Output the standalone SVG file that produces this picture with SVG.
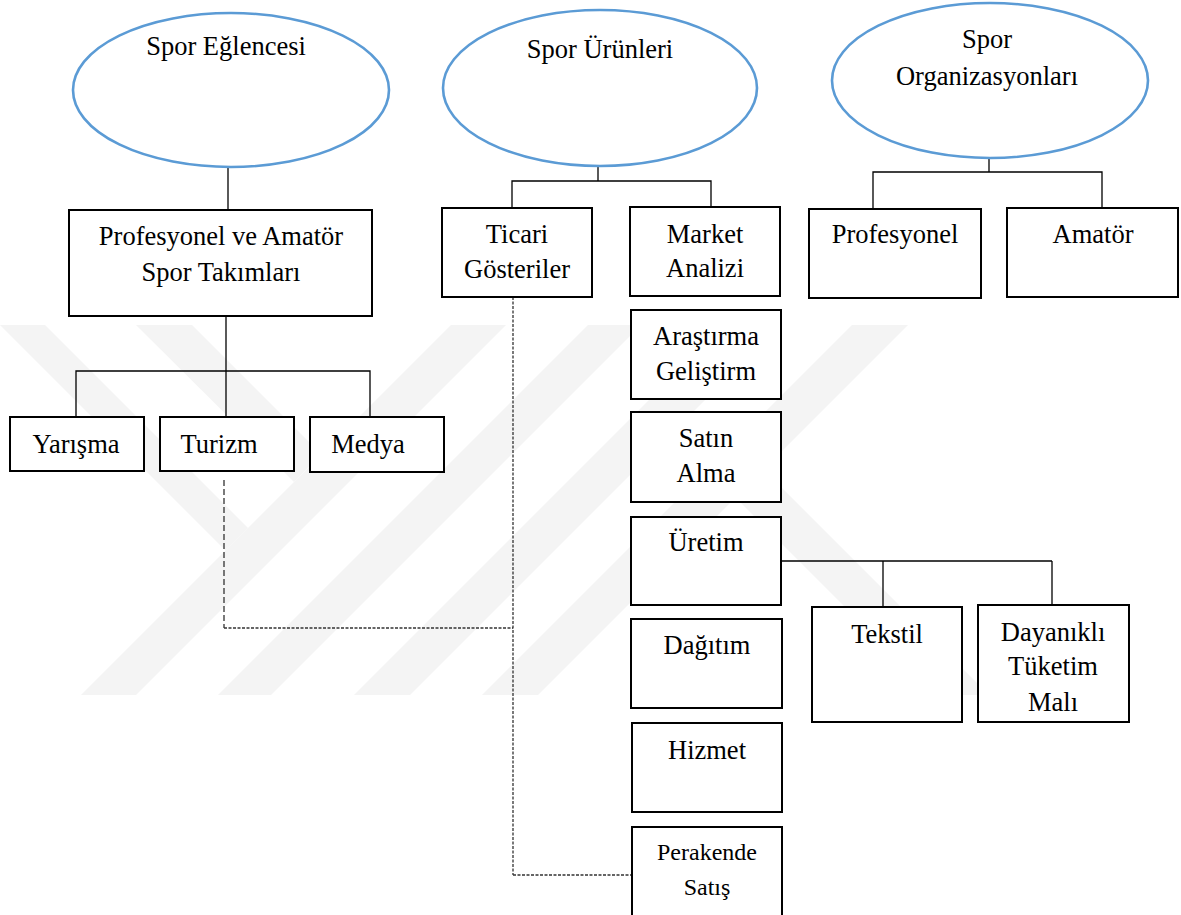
<svg xmlns="http://www.w3.org/2000/svg" width="1181" height="915" viewBox="0 0 1181 915">
<style>
.wm{fill:#f4f4f4;stroke:none}
.ell{fill:#ffffff;stroke:#5b9bd5;stroke-width:2.6}
.box{fill:#ffffff;stroke:#000000;stroke-width:2}
.t{font-family:"Liberation Serif","Times New Roman",serif;font-size:26.5px;fill:#000000;text-anchor:middle}
.ts{font-size:24px}
.ln{fill:none;stroke:#000000;stroke-width:1.3}
.dl{fill:none;stroke:#333333;stroke-width:1.3;stroke-dasharray:6 3}
.df{fill:none;stroke:#333333;stroke-width:1.3;stroke-dasharray:3 1.5}
</style>
<rect x="0" y="0" width="1181" height="915" fill="#ffffff"/>
<g id="watermark">
<polygon class="wm" points="0,325 45,325 248,528 225.5,550.5 0,325"/>
<polygon class="wm" points="136,325 192,325 321,454 294,482"/>
<polygon class="wm" points="451,325 506,325 136,695 81,695"/>
<polygon class="wm" points="588,325 641,325 271,695 218,695"/>
<polygon class="wm" points="724,325 780,325 410,695 354,695"/>
<polygon class="wm" points="852,325 908,325 538,695 482,695"/>
<polygon class="wm" points="763.5,469.5 989,695 933,695 735.5,497.5"/>
</g>
<g id="connectors">
<line class="ln" x1="228" y1="151" x2="228" y2="210"/>
<line class="ln" x1="226" y1="316" x2="226" y2="417"/>
<polyline class="ln" points="76,417 76,371 370,371 370,417"/>
<line class="ln" x1="598" y1="149" x2="598" y2="181"/>
<polyline class="ln" points="512,208 512,181 711,181 711,207"/>
<line class="ln" x1="989" y1="140" x2="989" y2="172"/>
<polyline class="ln" points="873,209 873,172 1102,172 1102,208"/>
<line class="ln" x1="781" y1="561" x2="1052" y2="561"/>
<line class="ln" x1="883" y1="561" x2="883" y2="607"/>
<line class="ln" x1="1052" y1="561" x2="1052" y2="605"/>
<line class="dl" x1="224" y1="480" x2="224" y2="628"/>
<line class="df" x1="224" y1="628" x2="513" y2="628"/>
<line class="df" x1="513" y1="297" x2="513" y2="875"/>
<line class="df" x1="513" y1="875" x2="632" y2="875"/>
</g>
<g id="spor-eglencesi">
<ellipse class="ell" cx="231" cy="90" rx="158" ry="77"/>
<text class="t" x="226" y="55">Spor Eğlencesi</text>
</g>
<g id="spor-urunleri">
<ellipse class="ell" cx="600" cy="88" rx="157" ry="78"/>
<text class="t" x="600" y="58">Spor Ürünleri</text>
</g>
<g id="spor-organizasyonlari">
<ellipse class="ell" cx="990" cy="80.5" rx="158" ry="77.5"/>
<text class="t" x="987" y="48">Spor</text>
<text class="t" x="987" y="85">Organizasyonları</text>
</g>
<g id="profesyonel-amator-takimlar">
<rect class="box" x="69" y="210" width="303" height="106"/>
<text class="t" x="221" y="245">Profesyonel ve Amatör</text>
<text class="t" x="221" y="281">Spor Takımları</text>
</g>
<g id="ticari-gosteriler">
<rect class="box" x="442" y="208" width="150" height="89"/>
<text class="t" x="517" y="243">Ticari</text>
<text class="t" x="517" y="278">Gösteriler</text>
</g>
<g id="market-analizi">
<rect class="box" x="630" y="207" width="150" height="89"/>
<text class="t" x="705" y="243">Market</text>
<text class="t" x="705" y="277">Analizi</text>
</g>
<g id="profesyonel">
<rect class="box" x="809" y="209" width="172" height="89"/>
<text class="t" x="895" y="243">Profesyonel</text>
</g>
<g id="amator">
<rect class="box" x="1007" y="208" width="171" height="89"/>
<text class="t" x="1093" y="243">Amatör</text>
</g>
<g id="yarisma">
<rect class="box" x="10" y="417" width="134" height="54"/>
<text class="t" x="76" y="453">Yarışma</text>
</g>
<g id="turizm">
<rect class="box" x="160" y="417" width="134" height="54"/>
<text class="t" x="219" y="453">Turizm</text>
</g>
<g id="medya">
<rect class="box" x="310" y="417" width="134" height="55"/>
<text class="t" x="368" y="453">Medya</text>
</g>
<g id="arastirma-gelistirme">
<rect class="box" x="631" y="310" width="150" height="89"/>
<text class="t" x="706" y="345">Araştırma</text>
<text class="t" x="706" y="380">Geliştirm</text>
</g>
<g id="satin-alma">
<rect class="box" x="631" y="412" width="150" height="90"/>
<text class="t" x="706" y="447">Satın</text>
<text class="t" x="706" y="482">Alma</text>
</g>
<g id="uretim">
<rect class="box" x="631" y="517" width="150" height="88"/>
<text class="t" x="706" y="551">Üretim</text>
</g>
<g id="dagitim">
<rect class="box" x="631" y="619" width="151" height="89"/>
<text class="t" x="707" y="654">Dağıtım</text>
</g>
<g id="hizmet">
<rect class="box" x="632" y="723" width="150" height="89"/>
<text class="t" x="707" y="759">Hizmet</text>
</g>
<g id="perakende-satis">
<rect class="box" x="632" y="827" width="150" height="100"/>
<text class="t ts" x="707" y="860">Perakende</text>
<text class="t ts" x="707" y="895">Satış</text>
</g>
<g id="tekstil">
<rect class="box" x="812" y="607" width="150" height="115"/>
<text class="t" x="887" y="643">Tekstil</text>
</g>
<g id="dayanikli-tuketim-mali">
<rect class="box" x="978" y="605" width="151" height="117"/>
<text class="t" x="1053" y="641">Dayanıklı</text>
<text class="t" x="1053" y="675">Tüketim</text>
<text class="t" x="1053" y="711">Malı</text>
</g>
</svg>
